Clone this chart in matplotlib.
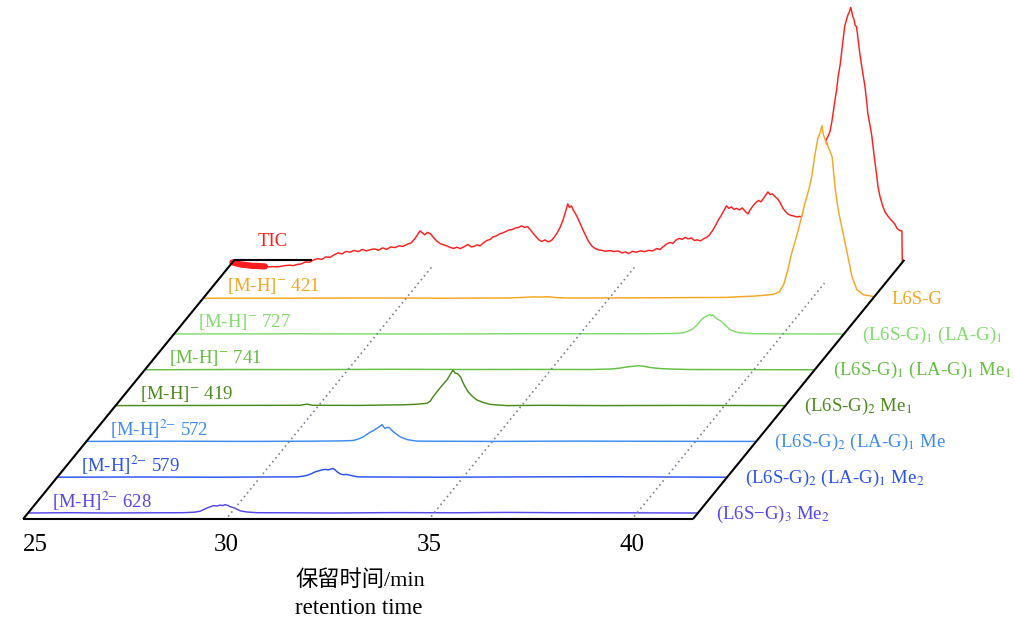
import numpy as np
import matplotlib
matplotlib.use("Agg")
import matplotlib.pyplot as plt

plt.rcParams['font.family'] = ['Liberation Serif', 'Noto Sans CJK SC']
plt.rcParams['mathtext.fontset'] = 'stix'

# ---------------------------------------------------------------- data
t_first, t_last = 25.0, 41.5            # retention-time window (min)
tick_values = [25, 30, 35, 40]
grid_times = [30, 35, 40]
grid_depths = [6.93, 6.93, 6.42]         # how far back each guide line runs (rows)

# m/z 628, [M-H]2-
t_628 = [25.0, 26.0, 27.0, 28.0, 28.8, 29.1, 29.24, 29.41, 29.56, 29.65, 29.73, 29.8, 29.85,
         29.92, 29.98, 30.04, 30.1, 30.16, 30.22, 30.3, 30.39, 30.64, 31.5, 32.5, 34.0, 35.5,
         36.8, 38.0, 39.5, 41.5]
h_628 = [0, 0.3, 0, 0.2, 0.3, 0.8, 1.8, 5.0, 7.3, 7.0, 7.9, 7.4, 8.4, 7.6, 6.3, 5.6, 4.6, 3.6,
         2.3, 1.6, 1.0, 0.3, 0.2, 0, 0.4, 0.2, 0.6, 0.3, 0.2, 0]

# m/z 579, [M-H]2-
t_579 = [25.0, 27.0, 29.0, 30.5, 30.91, 31.05, 31.15, 31.25, 31.35, 31.45, 31.55, 31.62, 31.67,
         31.73, 31.79, 31.84, 31.89, 31.96, 32.04, 32.12, 32.29, 32.41, 33.0, 34.5, 36.5, 38.5,
         40.0, 41.5]
h_579 = [0, 0.2, 0, 0.3, 0.3, 1.0, 1.8, 3.3, 5.3, 6.5, 7.6, 7.8, 7.3, 8.0, 8.8, 7.5, 5.5, 3.5,
         2.5, 2.8, 1.3, 0.3, 0.2, 0, 0.3, 0.5, 0.2, 0]

# m/z 572, [M-H]2-
t_572 = [25.0, 27.0, 29.0, 30.5, 31.3, 31.57, 31.7, 31.81, 31.9, 31.99, 32.08, 32.16, 32.22,
         32.28, 32.32, 32.35, 32.4, 32.45, 32.5, 32.55, 32.63, 32.72, 32.82, 32.92, 33.14, 33.5,
         35.0, 37.0, 39.0, 41.5]
h_572 = [0, 0.2, 0, 0.2, 0.5, 0.9, 2.4, 4.3, 6.8, 9.2, 11.0, 13.3, 14.8, 16.8, 14.5, 13.0, 13.8,
         14.0, 12.0, 10.0, 7.5, 4.8, 3.0, 1.6, 0.3, 0.2, 0, 0.3, 0.1, 0]

# m/z 419, [M-H]-
t_419 = [25.0, 28.0, 29.55, 29.71, 29.85, 31.0, 32.08, 32.4, 32.67, 32.75, 32.82, 32.9, 32.99,
         33.07, 33.16, 33.24, 33.31, 33.36, 33.42, 33.5, 33.56, 33.62, 33.68, 33.78, 33.9, 34.05,
         34.22, 34.4, 34.64, 35.5, 37.0, 39.0, 41.5]
h_419 = [0, 0.2, 0.3, 1.5, 0.3, 0.2, 0.8, 1.3, 2.3, 4.5, 8.9, 13.0, 17.6, 21.5, 25.6, 31.0, 35.6,
         32.5, 32.0, 28.5, 22.6, 18.0, 14.0, 9.5, 5.6, 3.2, 1.3, 0.6, 0, 0.3, 0, 0.2, 0]

# m/z 741, [M-H]-
t_741 = [25.0, 27.0, 29.0, 31.0, 33.0, 34.5, 36.0, 36.5, 36.7, 36.9, 37.15, 37.3, 37.44, 37.7,
         38.01, 38.4, 39.5, 41.5]
h_741 = [0, 0.3, 0.2, 0.5, 0.3, 0.4, 0.3, 0.8, 1.7, 3.0, 4.0, 3.5, 2.3, 1.2, 0.7, 0.3, 0.2, 0]

# m/z 727, [M-H]-
t_727 = [25.0, 28.0, 31.0, 34.0, 36.5, 37.3, 37.54, 37.66, 37.78, 37.87, 37.96, 38.02, 38.08,
         38.14, 38.2, 38.24, 38.28, 38.32, 38.37, 38.45, 38.52, 38.6, 38.69, 38.8, 38.94, 39.26,
         40.0, 41.5]
h_727 = [0, 0.2, 0, 0.3, 0.2, 0.5, 1.2, 2.8, 5.2, 8.5, 12.8, 15.5, 17.2, 18.2, 19.5, 18.3, 19.0,
         17.0, 15.2, 13.5, 11.2, 8.0, 4.5, 2.5, 1.2, 0.3, 0.1, 0]

# m/z 421, [M-H]-
t_421 = [25.0, 27.0, 29.0, 31.0, 32.5, 32.88, 33.1, 33.3, 33.5, 33.71, 34.0, 35.5, 37.0, 37.9,
         38.2, 38.54, 38.78, 39.03, 39.12, 39.2, 39.3, 39.4, 39.48, 39.57, 39.66, 39.74, 39.81,
         39.87, 39.93, 39.99, 40.06, 40.1, 40.14, 40.19, 40.24, 40.27, 40.3, 40.32, 40.35, 40.37,
         40.39, 40.44, 40.49, 40.57, 40.64, 40.74, 40.86, 40.98, 41.1, 41.26, 41.5]
h_421 = [0, 0, 0.2, 0, 0.2, 0.8, 1.3, 1.2, 1.4, 0.6, 0.2, 0.3, 0.6, 0.8, 1.5, 2.0, 2.8, 3.8,
         5.0, 6.8, 14.0, 28.0, 43.0, 55.5, 68.5, 81.8, 93.0, 101.8, 111.0, 121.8, 141.8, 151.0,
         160.2, 165.0, 172.5, 164.0, 161.0, 158.5, 154.0, 155.5, 151.5, 146.5, 141.5, 108.5,
         88.5, 68.5, 45.5, 21.5, 8.5, 3.5, 1.8]

# total ion current
t_tic = [25.0, 25.1, 25.2, 25.3, 25.4, 25.5, 25.6, 25.7, 25.8, 25.9, 26.0, 26.1, 26.2, 26.3,
         26.4, 26.5, 26.6, 26.7, 26.8, 26.9, 27.0, 27.1, 27.2, 27.3, 27.4, 27.5, 27.6, 27.7,
         27.8, 27.9, 28.0, 28.1, 28.2, 28.3, 28.4, 28.5, 28.6, 28.7, 28.8, 28.9, 29.0, 29.1,
         29.2, 29.3, 29.4, 29.48, 29.55, 29.62, 29.68, 29.74, 29.8, 29.87, 29.95, 30.03, 30.11,
         30.2, 30.28, 30.36, 30.45, 30.53, 30.61, 30.7, 30.8, 30.88, 30.95, 31.02, 31.1, 31.18,
         31.27, 31.35, 31.42, 31.5, 31.58, 31.66, 31.74, 31.82, 31.9, 31.98, 32.05, 32.12, 32.2,
         32.27, 32.33, 32.4, 32.47, 32.55, 32.62, 32.7, 32.78, 32.86, 32.93, 33.0, 33.07, 33.14,
         33.2, 33.26, 33.3, 33.35, 33.4, 33.46, 33.52, 33.58, 33.64, 33.7, 33.77, 33.85, 33.93,
         34.02, 34.1, 34.2, 34.3, 34.4, 34.5, 34.6, 34.68, 34.76, 34.85, 34.95, 35.05, 35.15,
         35.25, 35.35, 35.45, 35.53, 35.62, 35.7, 35.78, 35.85, 35.93, 36.0, 36.08, 36.15, 36.22,
         36.3, 36.38, 36.45, 36.53, 36.6, 36.68, 36.75, 36.83, 36.9, 36.97, 37.04, 37.11, 37.17,
         37.23, 37.29, 37.35, 37.42, 37.49, 37.56, 37.63, 37.7, 37.76, 37.83, 37.9, 37.96, 38.02,
         38.08, 38.14, 38.19, 38.24, 38.3, 38.37, 38.44, 38.5, 38.56, 38.62, 38.68, 38.75, 38.82,
         38.9, 38.97, 39.03, 39.1, 39.18, 39.27, 39.36, 39.45, 39.53, 39.61, 39.68, 39.72, 39.77,
         39.84, 39.88, 39.92, 39.97, 40.01, 40.05, 40.08, 40.12, 40.16, 40.2, 40.23, 40.26, 40.28,
         40.31, 40.34, 40.37, 40.4, 40.45, 40.5, 40.54, 40.58, 40.62, 40.65, 40.7, 40.75, 40.79,
         40.82, 40.86, 40.9, 40.95, 41.02, 41.08, 41.15, 41.21, 41.27, 41.32, 41.37, 41.43, 41.49,
         41.5]
h_tic = [0, -1.0, -2.0, -2.5, -3.0, -3.5, -3.5, -3.8, -4.0, -4.5, -4.2, -4.5, -3.8, -3.2, -2.8,
         -3.2, -2.0, -1.5, 0.5, 0.2, 2.5, 3.8, 3.0, 5.5, 5.0, 7.5, 9.5, 8.5, 11.0, 10.2, 12.0, 10.8,
         13.0, 11.5, 12.8, 13.5, 12.2, 14.5, 13.0, 15.5, 14.8, 16.5, 16.0, 18.0, 19.5, 23.0, 27.0,
         31.5, 29.5, 27.5, 30.0, 29.0, 25.0, 21.5, 19.0, 17.5, 16.5, 15.0, 14.0, 15.2, 13.8, 15.5,
         18.0, 15.5, 16.0, 17.5, 16.5, 19.5, 22.0, 23.0, 25.5, 26.5, 28.5, 29.5, 31.0, 32.5, 33.0,
         34.5, 35.0, 36.5, 35.0, 35.8, 33.0, 29.5, 26.0, 22.5, 21.0, 22.5, 20.5, 22.0, 25.5, 29.5,
         35.0, 42.0, 50.0, 58.5, 55.0, 56.5, 52.0, 48.0, 43.0, 37.5, 32.0, 27.0, 21.0, 16.5, 14.0,
         12.5, 12.0, 11.2, 11.8, 10.8, 11.5, 9.5, 10.5, 8.8, 11.0, 10.2, 11.5, 10.8, 12.0, 11.5,
         13.8, 12.8, 16.0, 18.5, 20.0, 19.0, 22.5, 24.0, 23.0, 25.0, 23.5, 24.5, 22.0, 22.5, 21.5,
         23.5, 25.0, 27.5, 32.0, 37.0, 42.5, 47.0, 52.0, 56.5, 54.0, 55.5, 53.0, 54.0, 52.5, 54.5,
         51.0, 48.5, 53.0, 57.0, 60.0, 62.0, 60.5, 64.0, 67.5, 70.5, 68.0, 68.5, 65.5, 63.0, 59.0,
         54.0, 51.0, 48.5, 47.0, 46.5, 45.5, 46.0, 45.5, 52.0, 62.0, 75.0, 90.0, 102.0, 112.0,
         121.0, 127.0, 131.0, 142.0, 162.0, 172.0, 186.0, 198.0, 212.0, 226.0, 236.0, 242.0,
         247.5, 251.0, 255.0, 250.0, 246.0, 243.0, 237.0, 236.0, 227.0, 210.0, 196.0, 186.0,
         176.0, 162.0, 149.0, 138.0, 126.0, 112.0, 102.0, 90.0, 76.0, 66.0, 56.0, 50.0, 46.0,
         43.0, 40.5, 38.0, 34.0, 32.0, 31.5, 0]

traces = [  # front to back
    (t_628, h_628, '#5446EE', '[M-H]$^{2{-}}$ 628', '(L6S\u2212G)$_3$ Me$_2$'),
    (t_579, h_579, '#2B50F2', '[M-H]$^{2{-}}$ 579', '(L6S-G)$_2$ (LA-G)$_1$ Me$_2$'),
    (t_572, h_572, '#3D8BF2', '[M-H]$^{2{-}}$ 572', '(L6S-G)$_2$ (LA-G)$_1$ Me'),
    (t_419, h_419, '#4C8A1E', '[M-H]$^{-}$ 419', '(L6S-G)$_2$ Me$_1$'),
    (t_741, h_741, '#64BE40', '[M-H]$^{-}$ 741', '(L6S-G)$_1$ (LA-G)$_1$ Me$_1$'),
    (t_727, h_727, '#80DC6C', '[M-H]$^{-}$ 727', '(L6S-G)$_1$ (LA-G)$_1$'),
    (t_421, h_421, '#F5A623', '[M-H]$^{-}$ 421', 'L6S-G'),
    (t_tic, h_tic, '#FF1E1E', 'TIC', None),
]

# ------------------------------------------------------------ geometry
px_per_min = 40.6
row_dx = 29.2 / px_per_min     # horizontal shear per row, in minutes
row_dy = 35.8                  # vertical step per row
front = -0.17                  # depth of the front frame edge (rows)
back = 7.07                    # depth of the back frame edge (rows)

fig = plt.figure(figsize=(10.15, 6.26), dpi=100)
ax = fig.add_axes([0, 0, 1, 1])
x0 = 24.31
ax.set_xlim(x0, x0 + 1015 / px_per_min)
ax.set_ylim(-113, 626 - 113)
ax.axis('off')


def at_depth(t, h, d):
    return np.asarray(t, float) + d * row_dx, np.asarray(h, float) + d * row_dy


n = len(traces)
for k in range(n - 1, -1, -1):
    t, h, col, left_lab, right_lab = traces[k]
    x, y = at_depth(t, h, k)
    z = 10 + 2 * (n - k)
    ax.fill_between(x, k * row_dy, y, color='white', lw=0, zorder=z)
    ax.plot(x, y, color=col, lw=1.05, zorder=z + 1)
    if k == n - 1:
        # heavy start of the TIC trace
        sel = np.asarray(t) <= 25.8
        ax.plot(x[sel], y[sel], color=col, lw=4.5, solid_capstyle='round', zorder=z + 1)
        ax.annotate(left_lab, xy=(t_first + k * row_dx, k * row_dy), xytext=(40, 21),
                    textcoords='offset pixels', ha='center', va='center',
                    color=col, fontsize=13.5, zorder=40)
    else:
        ax.annotate(left_lab, xy=(t_first + k * row_dx, k * row_dy), xytext=(24, 12),
                    textcoords='offset pixels', ha='left', va='center',
                    color=col, fontsize=13.5, zorder=40)
    if right_lab:
        ax.annotate(right_lab, xy=(t_last + k * row_dx, k * row_dy), xytext=(18, -1),
                    textcoords='offset pixels', ha='left', va='center',
                    color=col, fontsize=13.5, zorder=40)

# dotted time guides running into depth
for gt, gd in zip(grid_times, grid_depths):
    gx, gy = at_depth([gt, gt], [0, 0], np.array([-0.1, gd]))
    ax.plot(gx, gy, color='#778592', lw=1.2, ls=(0, (1, 2)), zorder=35)

# frame
frame_kw = dict(color='black', lw=1.5, zorder=36, solid_capstyle='butt')
fx, fy = at_depth([t_first, t_last], [0, 0], front)
ax.plot(fx, fy, **frame_kw)
for te in (t_first, t_last):
    ex, ey = at_depth([te, te], [0, 0], np.array([front, back]))
    ax.plot(ex, ey, **frame_kw)
bx, by = at_depth([t_first, 26.9], [0, 0], back)
ax.plot(bx, by, **frame_kw)

# time tick labels along the front edge
for i, v in enumerate(tick_values):
    tx, ty = at_depth([v], [0], front)
    ax.annotate(str(v), xy=(tx[0], ty[0]), xytext=(0, -26), textcoords='offset pixels',
                ha='left' if i == 0 else 'center', va='center', fontsize=18)

fig.text(360 / 1015, 1 - 581 / 626, '保留时间/min', ha='center', va='center', fontsize=16)
fig.text(359 / 1015, 1 - 608 / 626, 'retention time', ha='center', va='center', fontsize=16.5)

fig.savefig('out.png', dpi=100)
